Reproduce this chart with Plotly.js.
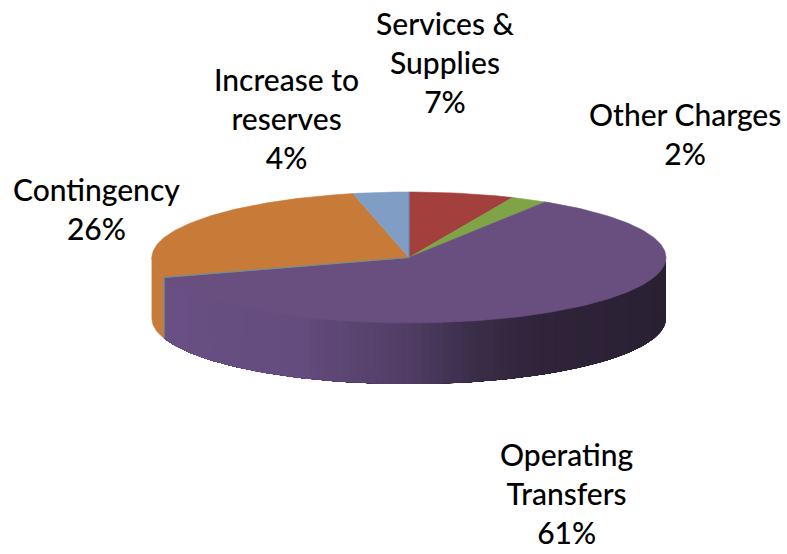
<!DOCTYPE html>
<html>
<head>
<meta charset="utf-8">
<script src="https://cdn.plot.ly/plotly-3.0.1.min.js"></script>
<style>html,body{margin:0;padding:0;background:#fff}#chart{width:787px;height:554px}</style>
</head>
<body>
<div id="chart"></div>
<script>
// Data, clockwise from 12 o'clock
const categories = ["Services & Supplies", "Other Charges", "Operating Transfers", "Contingency", "Increase to reserves"];
const values = [6.6, 2.3, 61.2, 26.4, 3.5];
const labelLines = [["Services &", "Supplies"], ["Other Charges"], ["Operating", "Transfers"], ["Contingency"], ["Increase to", "reserves"]];

// Drawing styles and geometry
const topColors = ["#a33f3c", "#7fa347", "#694f80", "#c87a38", "#809dc6"];
const labelX = [445, 685, 567, 96, 286];
const labelY = [62, 133, 493, 208, 118];
const cx = 409, cy = 257.5, rx = 257, ry = 65.5, depth = 61;
const FONT = "Lato, Carlito, sans-serif", FONT_SIZE = 30;

const total = values.reduce((a, b) => a + b, 0);
const pt = (deg, dy) => {
  const r = deg * Math.PI / 180;
  return [cx + rx * Math.sin(r), cy - ry * Math.cos(r) + (dy || 0)];
};
const arc = (a, b, dy) => {
  const n = Math.max(2, Math.ceil(Math.abs(b - a) / 1));
  const out = [];
  for (let i = 0; i <= n; i++) out.push(pt(a + (b - a) * i / n, dy));
  return out;
};
const poly = (pts, color, lw, lc) => ({
  type: "scatter", mode: "lines", x: pts.map(p => p[0]), y: pts.map(p => p[1]),
  fill: "toself", fillcolor: color, line: {color: lc || color, width: lw === undefined ? 0 : lw},
  hoverinfo: "skip", showlegend: false
});

// Wall shade along the width of the pie
const stops = [[152, [106, 80, 132]], [300, [100, 76, 126]], [409, [80, 61, 100]], [470, [59, 46, 74]], [540, [47, 36, 57]], [666, [42, 32, 52]]];
const shade = x => {
  for (let i = 1; i < stops.length; i++) {
    if (x <= stops[i][0]) {
      const t = (x - stops[i - 1][0]) / (stops[i][0] - stops[i - 1][0]);
      const c = stops[i - 1][1].map((v, k) => Math.round(v + (stops[i][1][k] - v) * t));
      return "rgb(" + c.join(",") + ")";
    }
  }
  return "rgb(42,32,52)";
};

// Slice boundaries in degrees
const edges = [0];
values.forEach((v, i) => edges.push(edges[i] + v / total * 360));

const traces = [];
const wall = (a, b, color, lw) => traces.push(poly(arc(a, b).concat(arc(b, a, depth)), color, lw));

// Side walls: only the part of each slice that faces the viewer (90..270 deg)
values.forEach((v, i) => {
  const a = Math.max(edges[i], 90), b = Math.min(edges[i + 1], 270);
  if (b <= a) return;
  if (i === 2) {
    // Strips run from the dark right side to the left, each overlapping the last, so no seams show
    const step = 1.5;
    for (let d = a; d < b; d += step) {
      wall(d, b, shade(pt(d + step / 2)[0]), 0);
    }
  } else {
    wall(a, b, topColors[i], 0.8);
  }
});

// Top faces
values.forEach((v, i) => {
  traces.push(poly([[cx, cy]].concat(arc(edges[i], edges[i + 1])).concat([[cx, cy]]), topColors[i], 0.6));
});

// Thin light seams on the cut edges of the big slice
const seam = (pts, color, w) => traces.push({
  type: "scatter", mode: "lines", x: pts.map(p => p[0]), y: pts.map(p => p[1]),
  line: {color: color, width: w}, hoverinfo: "skip", showlegend: false
});
const cut = pt(edges[3]);
seam([[cx, cy], cut, [cut[0], cut[1] + depth - 1]], "#6f8e93", 1.2);
seam([[cx, cy], pt(0)], "#5f86b8", 1);

// Labels
const annotations = categories.map((c, i) => ({
  x: labelX[i], y: labelY[i], xref: "x", yref: "y", showarrow: false,
  xanchor: "center", yanchor: "middle", align: "center",
  text: labelLines[i].concat([Math.round(values[i]) + "%"]).join("<br>"),
  font: {family: FONT, size: FONT_SIZE, color: "#000000", weight: 500}
}));

Plotly.newPlot("chart", traces, {
  width: 787, height: 554, margin: {l: 0, r: 0, t: 0, b: 0},
  paper_bgcolor: "#fff", plot_bgcolor: "#fff", showlegend: false,
  xaxis: {range: [0, 787], visible: false, fixedrange: true},
  yaxis: {range: [554, 0], visible: false, fixedrange: true},
  annotations: annotations
}, {displayModeBar: false, staticPlot: true});
</script>
</body>
</html>
